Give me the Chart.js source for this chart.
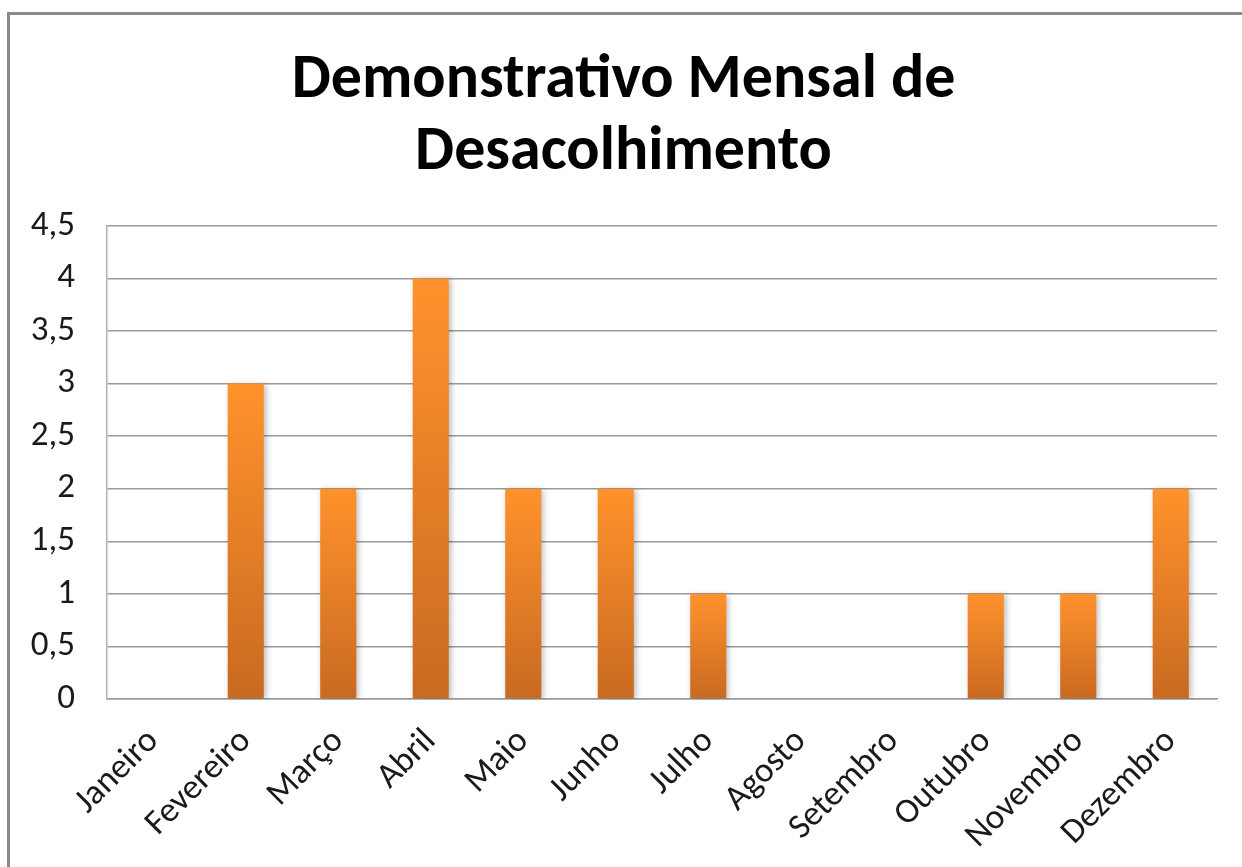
<!DOCTYPE html>
<html lang="pt">
<head>
<meta charset="utf-8">
<title>Demonstrativo Mensal de Desacolhimento</title>
<script src="https://cdn.jsdelivr.net/npm/chart.js@4.4.1/dist/chart.umd.min.js"></script>
<style>
    html, body { margin: 0; padding: 0; background: #fff; overflow: hidden; }
    .moldura {
        position: absolute;
        left: 7px;
        top: 12px;
        width: 1300px;
        height: 900px;
        border-left: 3px solid #8a8a8a;
        border-top: 3px solid #8a8a8a;
    }
    #grafico { position: absolute; left: 0; top: 0; }
</style>
</head>
<body>
<div class="moldura">
    <canvas id="grafico" width="1232" height="852"></canvas>
</div>
<script>
// Dados do grafico
const meses = ['Janeiro', 'Fevereiro', 'Março', 'Abril', 'Maio', 'Junho',
    'Julho', 'Agosto', 'Setembro', 'Outubro', 'Novembro', 'Dezembro'];
const desacolhimentos = [0, 3, 2, 4, 2, 2, 1, 0, 0, 1, 1, 2];
const tituloLinhas = ['Demonstrativo Mensal de', 'Desacolhimento'];

const FONTE = 'Carlito, Lato, "Open Sans", sans-serif';
const COR_GRADE = '#9a9a9a';

/**
 * Gradiente de cada barra: laranja claro no topo, escuro na base
 */
function corBarra(context) {
    const chart = context.chart;
    const y = chart.scales.y;
    if (!chart.chartArea || !y || context.type !== 'data') return '#f08a2a';
    const valor = context.raw;
    const topo = y.getPixelForValue(valor);
    const base = y.getPixelForValue(0);
    if (topo === base) return '#f08a2a';
    const g = chart.ctx.createLinearGradient(0, topo, 0, base);
    g.addColorStop(0, '#ff922c');
    g.addColorStop(1, '#c96a21');
    return g;
}

// Sombra suave em volta das barras
const sombraBarras = {
    id: 'sombraBarras',
    beforeDatasetsDraw(chart) {
        const ctx = chart.ctx;
        ctx.save();
        ctx.shadowColor = 'rgba(0, 0, 0, 0.28)';
        ctx.shadowBlur = 6;
        ctx.shadowOffsetX = 2;
        ctx.shadowOffsetY = 1;
    },
    afterDatasetsDraw(chart) {
        chart.ctx.restore();
    },
};

new Chart(document.getElementById('grafico'), {
    type: 'bar',
    data: {
        labels: meses,
        datasets: [{
            label: 'Desacolhimento',
            data: desacolhimentos,
            backgroundColor: corBarra,
            borderWidth: 0,
            barPercentage: 0.39,
            categoryPercentage: 1,
        }],
    },
    options: {
        responsive: false,
        animation: false,
        layout: {
            // padding esquerdo desloca um pouco o titulo para a direita
            padding: { left: 20, right: 25, top: 0, bottom: 0 },
        },
        plugins: {
            legend: { display: false },
            tooltip: { enabled: false },
            title: {
                display: true,
                text: tituloLinhas,
                color: '#000',
                font: { family: FONTE, size: 62, weight: 'bold', lineHeight: 1.16 },
                padding: { top: 31, bottom: 36 },
            },
        },
        scales: {
            x: {
                grid: { display: false, drawTicks: false },
                border: { display: true, color: COR_GRADE, width: 1.5 },
                ticks: {
                    color: '#1a1a1a',
                    font: { family: FONTE, size: 35 },
                    minRotation: 45,
                    maxRotation: 45,
                    padding: 22,
                    autoSkip: false,
                },
                afterFit(scale) { scale.height = 168; },
            },
            y: {
                min: 0,
                max: 4.5,
                ticks: {
                    stepSize: 0.5,
                    color: '#1a1a1a',
                    font: { family: FONTE, size: 35 },
                    padding: 32,
                    callback: (v) => String(v).replace('.', ','),
                },
                grid: { color: COR_GRADE, lineWidth: 1.5, drawTicks: false },
                border: { display: true, color: '#b0b0b0', width: 1.5 },
                afterFit(scale) { scale.width = 77; },
            },
        },
    },
    plugins: [sombraBarras],
});
</script>
</body>
</html>
